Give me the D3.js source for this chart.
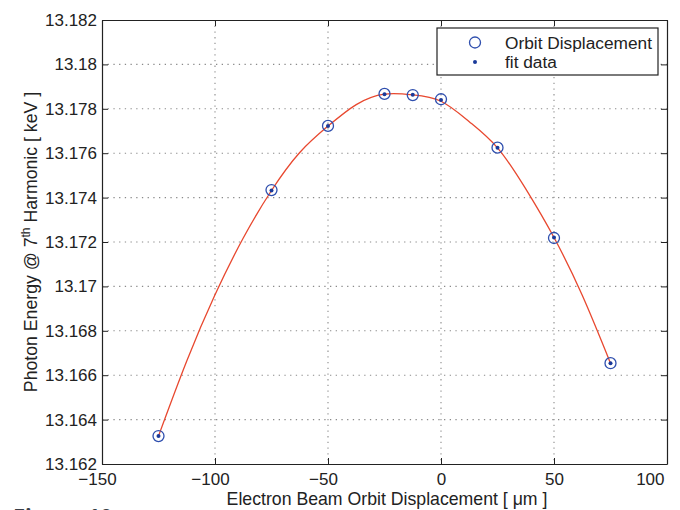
<!DOCTYPE html>
<html>
<head>
<meta charset="utf-8">
<script src="https://cdn.jsdelivr.net/npm/d3@7"></script>
<style>
  html, body { margin: 0; padding: 0; background: #fff; }
  svg { display: block; font-family: "Liberation Sans", Arial, Helvetica, sans-serif; }
</style>
</head>
<body>
<svg id="chart" width="680" height="510"></svg>
<script>
// ---- data ----
const displacement = [-125, -75, -50, -25, -12.5, 0, 25, 50, 75];
const photonEnergy = [13.16326, 13.17434, 13.17723, 13.17867, 13.17862, 13.17843, 13.17625, 13.17218, 13.16654];
const fitData      = [13.16326, 13.17432, 13.17722, 13.17866, 13.17863, 13.17840, 13.17624, 13.17220, 13.16654];
// red fit curve at regular steps
const curveX = [-125, -112.5, -100, -87.5, -75, -62.5, -50, -37.5, -25, -12.5, 0, 12.5, 25, 37.5, 50, 62.5, 75];
const curveY = [13.16326, 13.16664, 13.16962, 13.17218, 13.17432, 13.17603, 13.17722, 13.17819, 13.17866, 13.17863,
                13.17834, 13.17742, 13.17624, 13.17439, 13.17220, 13.16960, 13.16654];
const xTicks = [-150, -100, -50, 0, 50, 100];
const yTicks = [13.162, 13.164, 13.166, 13.168, 13.17, 13.172, 13.174, 13.176, 13.178, 13.18, 13.182];
const xTickLabels = ["\u2212150", "\u2212100", "\u221250", "0", "50", "100"];
const yTickLabels = ["13.162", "13.164", "13.166", "13.168", "13.17", "13.172", "13.174", "13.176", "13.178", "13.18", "13.182"];
const legendLabels = ["Orbit Displacement", "fit data"];

// ---- layout ----
const svg = d3.select("#chart");
const L = 102, R = 667, T = 20, B = 464;
const x = d3.scaleLinear().domain([-150, 100]).range([L, R]);
const y = d3.scaleLinear().domain([13.162, 13.182]).range([B, T]);

const blue = "#2f4fae";
const red = "#e8482f";

// grid
const grid = svg.append("g");
grid.selectAll("line.gx").data(xTicks.slice(1, -1)).join("line")
  .attr("x1", d => x(d)).attr("x2", d => x(d)).attr("y1", T).attr("y2", B)
  .attr("stroke", "#8a8a8a").attr("stroke-width", 1.1).attr("stroke-dasharray", "1.3,4.4");
grid.selectAll("line.gy").data(yTicks.slice(1, -1)).join("line")
  .attr("y1", d => y(d)).attr("y2", d => y(d)).attr("x1", L).attr("x2", R)
  .attr("stroke", "#8a8a8a").attr("stroke-width", 1.1).attr("stroke-dasharray", "1.3,4.4");

// axes (MATLAB style, ticks inside, box)
const tl = -6;
svg.append("g").attr("transform", `translate(0,${B})`)
  .call(d3.axisBottom(x).tickValues(xTicks).tickSizeInner(tl).tickSizeOuter(0)
    .tickFormat((d, i) => xTickLabels[i]))
  .call(g => g.selectAll("text").attr("y", 9).attr("dy", "0.71em")
    .attr("dx", d => d < 0 ? -5 : 0)
    .attr("text-anchor", d => d === 100 ? "end" : "middle")
    .attr("x", d => d === 100 ? -3 : 0));
svg.append("g").attr("transform", `translate(0,${T})`)
  .call(d3.axisTop(x).tickValues(xTicks).tickSizeInner(tl).tickSizeOuter(0).tickFormat(""));
svg.append("g").attr("transform", `translate(${L},0)`)
  .call(d3.axisLeft(y).tickValues(yTicks).tickSizeInner(tl).tickSizeOuter(0)
    .tickFormat((d, i) => yTickLabels[i]))
  .call(g => g.selectAll("text").attr("x", -5));
svg.append("g").attr("transform", `translate(${R},0)`)
  .call(d3.axisRight(y).tickValues(yTicks).tickSizeInner(tl).tickSizeOuter(0).tickFormat(""));

svg.selectAll(".domain").attr("stroke", "#222").attr("stroke-width", 1.2);
svg.selectAll(".tick line").attr("stroke", "#222").attr("stroke-width", 1);
svg.selectAll(".tick text").attr("font-size", 17).attr("fill", "#222")
  .attr("font-family", "'Liberation Sans', Arial, sans-serif");

// fit curve
const pts = curveX.map((d, i) => [d, curveY[i]]);
svg.append("path").datum(pts)
  .attr("fill", "none").attr("stroke", red).attr("stroke-width", 1.3)
  .attr("d", d3.line().x(d => x(d[0])).y(d => y(d[1])).curve(d3.curveNatural));

// markers
svg.append("g").selectAll("circle").data(displacement).join("circle")
  .attr("cx", d => x(d)).attr("cy", (d, i) => y(photonEnergy[i])).attr("r", 5.5)
  .attr("fill", "none").attr("stroke", blue).attr("stroke-width", 1.3);
svg.append("g").selectAll("circle").data(displacement).join("circle")
  .attr("cx", d => x(d)).attr("cy", (d, i) => y(fitData[i])).attr("r", 2)
  .attr("fill", "#1a3a9a");

// legend
const lg = svg.append("g");
lg.append("rect").attr("x", 437).attr("y", 28).attr("width", 221).attr("height", 47)
  .attr("fill", "#fff").attr("stroke", "#222").attr("stroke-width", 1.2);
lg.append("circle").attr("cx", 475).attr("cy", 42.5).attr("r", 5.5)
  .attr("fill", "none").attr("stroke", blue).attr("stroke-width", 1.3);
lg.append("circle").attr("cx", 475).attr("cy", 62).attr("r", 2).attr("fill", "#1a3a9a");
lg.selectAll("text").data(legendLabels).join("text")
  .attr("x", 505).attr("y", (d, i) => 48.5 + i * 19.5)
  .attr("font-size", 17.3).attr("fill", "#222").text(d => d);

// axis labels
svg.append("text").attr("x", 387).attr("y", 505).attr("text-anchor", "middle")
  .attr("font-size", 17.7).attr("fill", "#222")
  .text("Electron Beam Orbit Displacement [ \u03bcm ]");

const yl = svg.append("text")
  .attr("transform", `translate(37,${(T + B) / 2}) rotate(-90)`)
  .attr("text-anchor", "middle").attr("font-size", 17.7).attr("fill", "#222");
yl.append("tspan").text("Photon Energy @ 7");
yl.append("tspan").attr("dy", -7).attr("font-size", 12).text("th");
yl.append("tspan").attr("dy", 7).text(" Harmonic [ keV ]");

// cut-off caption at bottom
svg.append("text").attr("x", 13).attr("y", 524)
  .attr("font-size", 22).attr("font-weight", "bold").attr("fill", "#3a3f48")
  .attr("font-family", "'Open Sans', 'Liberation Sans', sans-serif")
  .text("Figure 10");
</script>
</body>
</html>
